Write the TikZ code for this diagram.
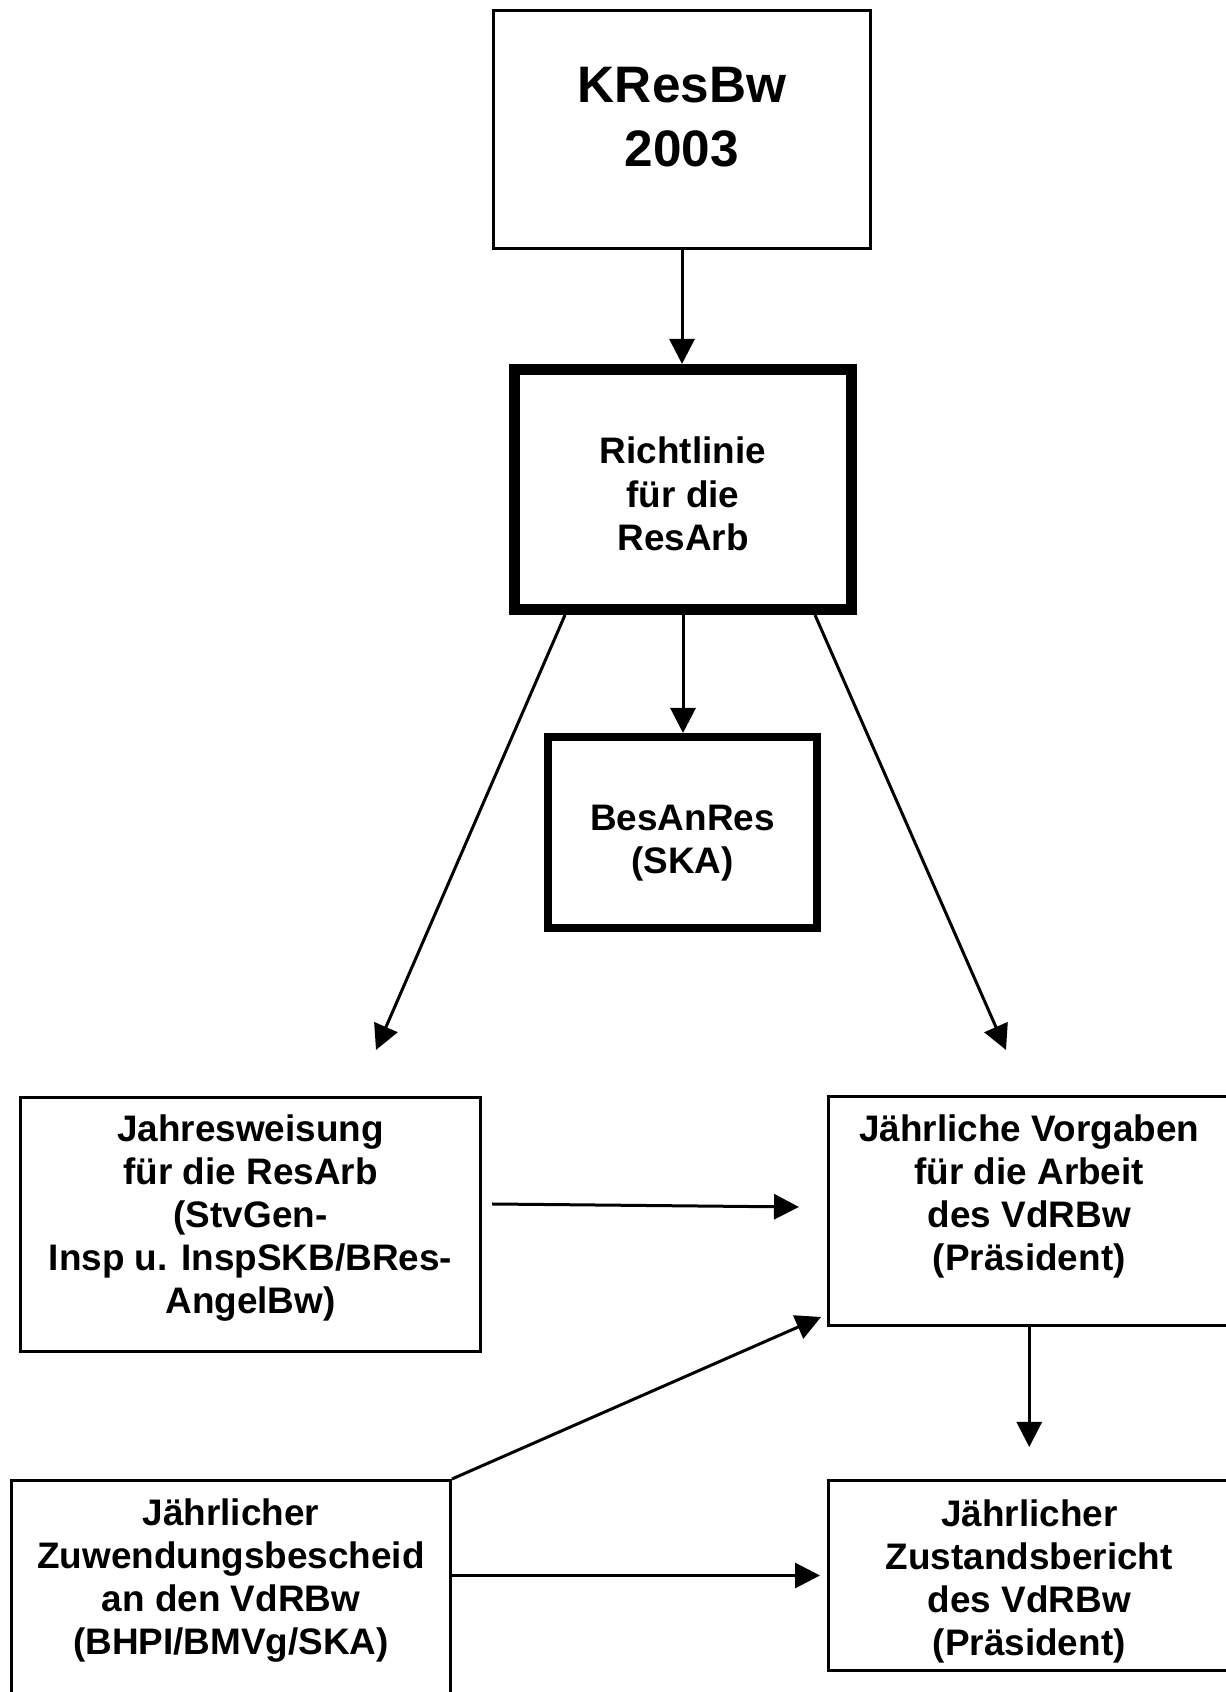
\documentclass[tikz,border=0pt]{standalone}
\usepackage{fontspec}
\setmainfont{Liberation Sans}
\usetikzlibrary{arrows.meta}

\tikzset{
  box/.style={draw, line width=0.06cm, align=center, inner sep=0pt,
    font=\fontsize{21}{24.5}\selectfont\bfseries},
  thickbox/.style={box, line width=0.22cm},
}

\begin{document}
\begin{tikzpicture}[>={Triangle[length=0.5cm,width=0.5cm]}, line width=0.06cm]
\useasboundingbox (0,0) rectangle (24.5,33.84);

% oben
\node[box, minimum width=7.54cm, minimum height=4.76cm,
  font=\fontsize{29.2}{36.4}\selectfont\bfseries] (kres) at (13.64,31.25) {KResBw\\2003\rule[-0.5cm]{0pt}{0pt}};
\node[thickbox, minimum width=6.74cm, minimum height=4.8cm] (richt) at (13.66,24.05) {\rule{0pt}{0.71cm}Richtlinie\\für die\\ResArb};
\node[thickbox, line width=0.16cm, minimum width=5.38cm, minimum height=3.82cm] (besan) at (13.65,17.19) {\rule{0pt}{0.94cm}BesAnRes\\(SKA)};

% unten
\node[box, minimum width=9.2cm, minimum height=5.08cm] (jahr) at (5.01,9.35) {Jahresweisung\\für die ResArb\\(StvGen-\\Insp u. InspSKB/BRes-\\AngelBw)\rule[-0.42cm]{0pt}{0pt}};
\node[box, minimum width=8.03cm, minimum height=4.58cm] (vorg) at (20.585,9.62) {Jährliche Vorgaben\\für die Arbeit\\des VdRBw\\(Präsident)\rule[-0.72cm]{0pt}{0pt}};
\node[box, minimum width=8.03cm, minimum height=3.8cm] (zust) at (20.585,2.33) {\rule{0pt}{0.76cm}Jährlicher\\Zustandsbericht\\des VdRBw\\(Präsident)};
\node[box, minimum width=8.78cm, minimum height=4.43cm] (zuw) at (4.62,2.015) {Jährlicher\\Zuwendungsbescheid\\an den VdRBw\\(BHPI/BMVg/SKA)\rule[-0.6cm]{0pt}{0pt}};

\coordinate (jahrin) at (7.52,12.84);
\coordinate (vorgin) at (20.12,12.84);

\draw[->] (kres.south) -- (kres.south |- richt.north);
\draw[->] (richt.south) -- (richt.south |- besan.north);
\draw[->] ([xshift=-2.36cm]richt.south) -- (jahrin);
\draw[->] ([xshift=2.64cm]richt.south) -- (vorgin);
\draw[->] ([xshift=0.2cm,yshift=0.41cm]jahr.east) -- ([xshift=-0.56cm,yshift=0.08cm]vorg.west);
\draw[->] (zuw.north east) -- ([xshift=-0.12cm,yshift=0.2cm]vorg.south west);
\draw[->] (zuw.east |- zust.west) -- ([xshift=-0.14cm]zust.west);
\draw[->] (vorg.south) -- ([yshift=0.64cm]zust.north);
\end{tikzpicture}
\end{document}
